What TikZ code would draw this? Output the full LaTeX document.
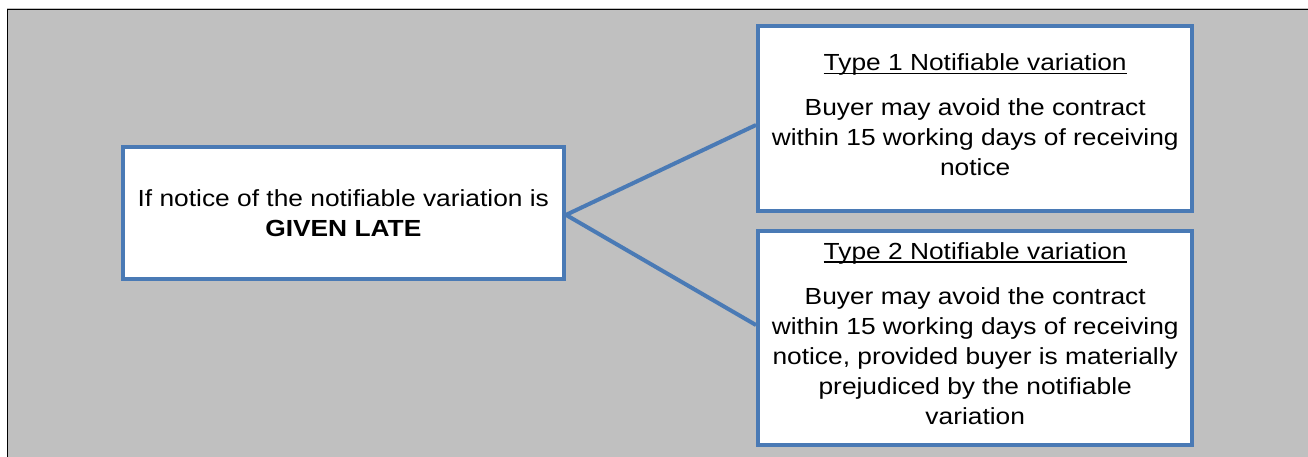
\documentclass[tikz,border=0pt]{standalone}
\usepackage{fontspec}
\setmainfont[FakeStretch=1.13]{Liberation Sans}
\definecolor{bgray}{HTML}{C0C0C0}
\definecolor{sblue}{HTML}{4A7AB5}
\newcommand\ulbox[1]{\setbox0\hbox{#1}\rlap{\rule[-3.2pt]{\wd0}{1.3pt}}\box0}
\tikzset{
  box/.style={draw=sblue, line width=4pt, fill=white, rectangle, inner sep=0pt},
  conn/.style={draw=sblue, line width=4pt},
  txt/.style={anchor=base, align=center, inner sep=0pt, font=\fontsize{23.3}{30}\selectfont}
}
\begin{document}
\begin{tikzpicture}[x=1pt,y=-1pt]
\useasboundingbox (0,0) rectangle (1308,457);
\fill[bgray] (7,8) rectangle (1308,457);
\draw[line width=1.2pt] (7.6,457) -- (7.6,9.5) -- (1308,9.5);
\node[box, minimum width=441pt, minimum height=131.7pt] (L) at (343.5,212.9) {};
\node[box, minimum width=433.5pt, minimum height=184.8pt] (A) at (974.75,118.4) {};
\node[box, minimum width=433.5pt, minimum height=213.7pt] (B) at (974.75,337.85) {};
\draw[conn] ([yshift=-2pt]L.east) -- ([yshift=-6.6pt]A.west);
\draw[conn] ([yshift=-2pt]L.east) -- ([yshift=12.8pt]B.west);
\node[txt] (Lt) at (343.3,236.7) {If notice of the notifiable variation is\\ \textbf{GIVEN LATE}};
\node[txt] (At) at (975.2,175.7) {\ulbox{Type 1 Notifiable variation}\\[15pt] Buyer may avoid the contract\\ within 15 working days of receiving\\ notice};
\node[txt] (Bt) at (975.2,424.3) {\ulbox{Type 2 Notifiable variation}\\[15pt] Buyer may avoid the contract\\ within 15 working days of receiving\\ notice, provided buyer is materially\\ prejudiced by the notifiable\\ variation};
\end{tikzpicture}
\end{document}
